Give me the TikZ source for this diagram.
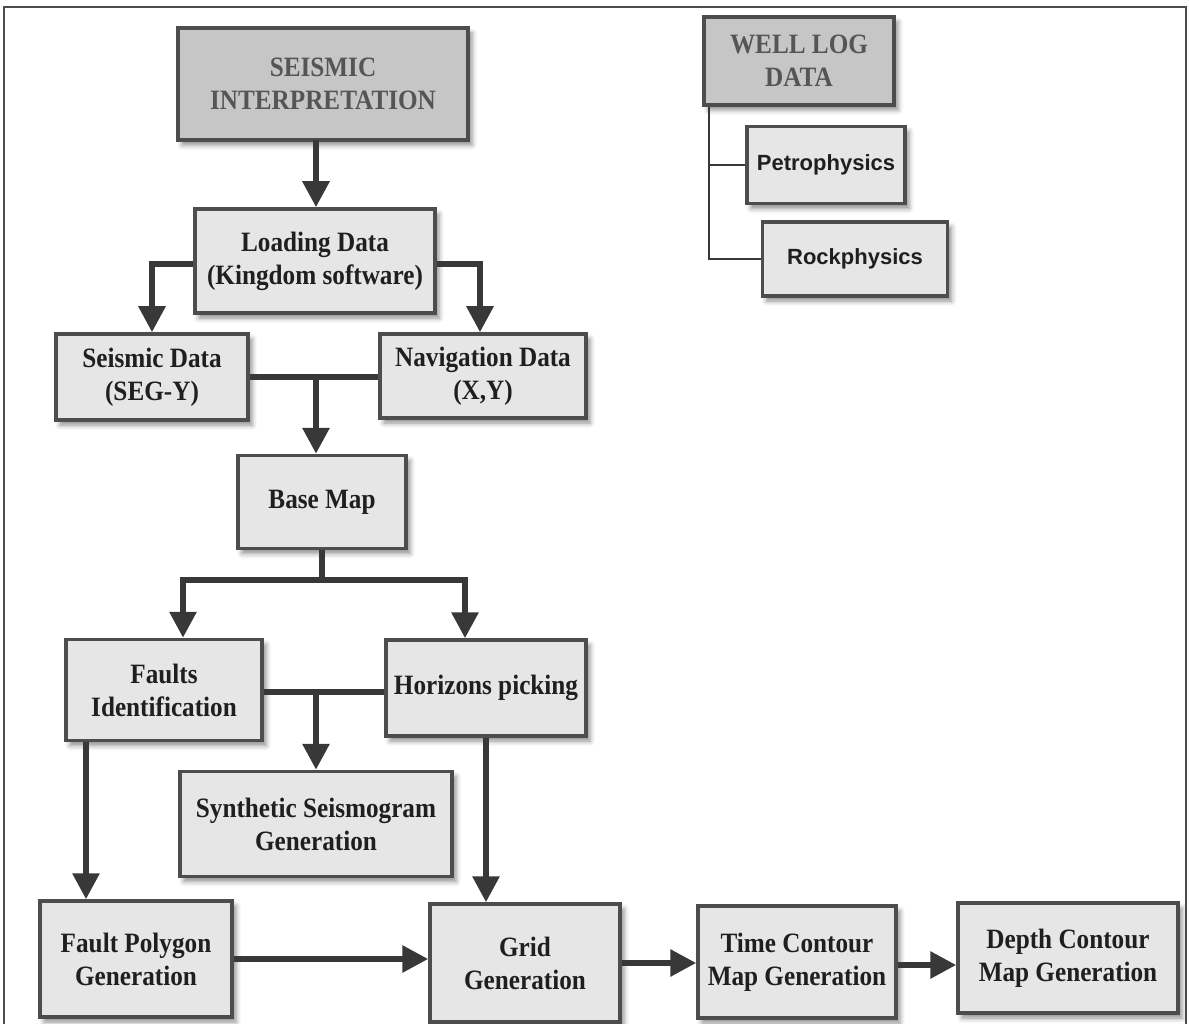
\documentclass[tikz,border=0pt]{standalone}
\usepackage{fontspec}
\setmainfont{Liberation Serif}[FakeStretch=0.9]
\newfontfamily\labelsans{Liberation Sans}
\usetikzlibrary{arrows.meta,shadows.blur,calc}

\definecolor{boxfill}{HTML}{E6E6E6}
\definecolor{headfill}{HTML}{C6C6C6}
\definecolor{boxline}{HTML}{4D4D4D}
\definecolor{wire}{HTML}{383838}
\definecolor{headtext}{HTML}{555555}

\tikzset{
  stage/.style={draw=boxline, line width=3.5pt, fill=boxfill, align=center,
    inner sep=0pt, text=black!88,
    font=\bfseries\fontsize{28}{33}\selectfont,
    blur shadow={shadow xshift=4pt, shadow yshift=-5pt, shadow blur radius=5pt, shadow opacity=45}},
  headstage/.style={stage, fill=headfill, text=headtext},
  sidestage/.style={stage, font=\labelsans\bfseries\fontsize{22}{26}\selectfont},
  conn/.style={draw=wire, line width=6pt,
    -{Triangle[width=26pt,length=26pt,fill=wire]}},
  link/.style={draw=wire, line width=6pt},
  wlink/.style={draw=wire, line width=2.5pt},
  frame/.style={draw=boxline, line width=2pt}
}

\begin{document}
\begin{tikzpicture}[x=1pt,y=-1pt]
\useasboundingbox (0,0) rectangle (1189,1024);
\draw[frame] (4,1040) -- (4,7) -- (1186,7) -- (1186,1040);

% boxes
\node[headstage, minimum width=290pt, minimum height=112pt] (seis) at (323,84) {SEISMIC\\INTERPRETATION};
\node[headstage, minimum width=190pt, minimum height=88pt] (well) at (799,61) {WELL LOG\\DATA};
\node[sidestage, minimum width=158pt, minimum height=77pt] (petro) at (826,165) {Petrophysics};
\node[sidestage, minimum width=185pt, minimum height=74pt] (rock) at (855,259) {Rockphysics};

\node[stage, minimum width=240pt, minimum height=104pt] (load) at (315,261) {Loading Data\\(Kingdom software)};
\node[stage, minimum width=192pt, minimum height=86pt] (sdata) at (152,377) {Seismic Data\\(SEG-Y)};
\node[stage, minimum width=206pt, minimum height=84pt] (ndata) at (483,376) {Navigation Data\\(X,Y)};
\node[stage, minimum width=168pt, minimum height=93pt] (base) at (322,502) {Base Map};
\node[stage, minimum width=196pt, minimum height=101pt] (faults) at (164,690) {Faults\\Identification};
\node[stage, minimum width=200pt, minimum height=96pt] (horiz) at (486,688) {Horizons picking};
\node[stage, minimum width=272pt, minimum height=105pt] (synth) at (316,824) {Synthetic Seismogram\\Generation};
\node[stage, minimum width=192pt, minimum height=116pt] (fpoly) at (136,959) {Fault Polygon\\Generation};
\node[stage, minimum width=190pt, minimum height=118pt] (grid) at (525,963) {Grid\\Generation};
\node[stage, minimum width=198pt, minimum height=112pt] (time) at (797,962) {Time Contour\\Map Generation};
\node[stage, minimum width=220pt, minimum height=110pt] (depth) at (1068,958) {Depth Contour\\Map Generation};

% junction points
\coordinate (jload) at (316,140);
\coordinate (jsd) at (316,377);
\coordinate (jbase) at (322,580);
\coordinate (jfh) at (316,692);

% well log branches
\draw[wlink] ([xshift=-90pt]well.south) |- (rock.west);
\draw[wlink] ([xshift=-90pt]well.south |- petro.west) -- (petro.west);

% main flow
\draw[conn] (jload) -- (jload |- load.north);
\draw[conn] ([yshift=-3pt]load.west) -| (sdata.north);
\draw[conn] ([yshift=-3pt]load.east) -| ([xshift=-3pt]ndata.north);
\draw[link] (sdata.east) -- (sdata.east -| ndata.west);
\draw[conn] (jsd) -- (jsd |- base.north);
\draw[link] (base.south) -- (jbase);
\draw[conn] (jbase) -| ([xshift=19pt]faults.north);
\draw[conn] (jbase) -| ([xshift=-21pt]horiz.north);
\draw[link] (faults.east |- jfh) -- (jfh -| horiz.west);
\draw[conn] (jfh) -- (synth.north);
\draw[conn] ([xshift=-78pt]faults.south) -- ([xshift=-78pt]faults.south |- fpoly.north);
\draw[conn] (horiz.south) -- (horiz.south |- grid.north);
\draw[conn] (fpoly.east) -- (fpoly.east -| grid.west);
\draw[conn] (grid.east) -- (grid.east -| time.west);
\draw[conn] ([yshift=-3pt]time.east) -- ([yshift=-3pt]time.east -| depth.west);
\end{tikzpicture}
\end{document}
